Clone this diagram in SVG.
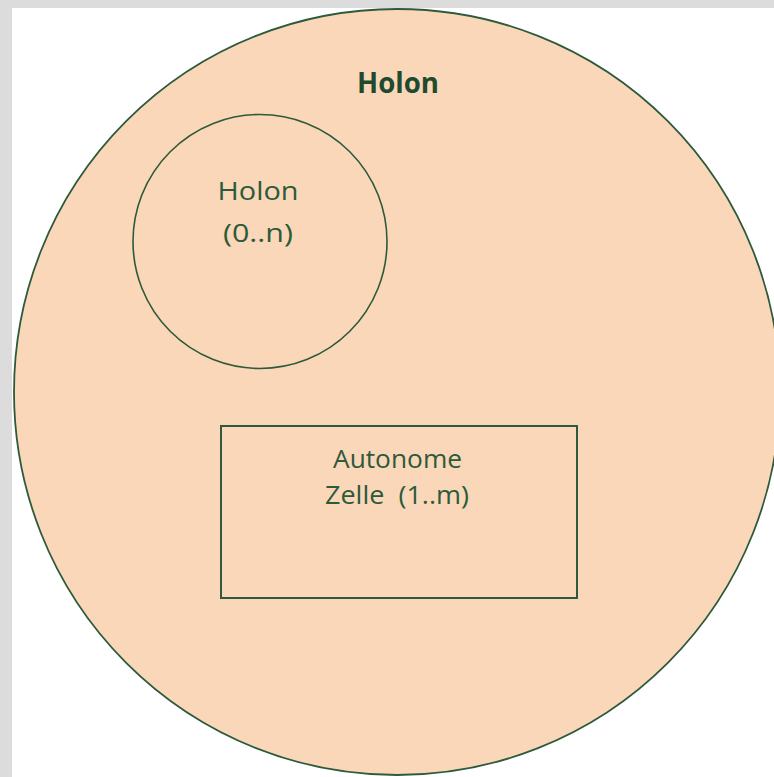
<svg xmlns="http://www.w3.org/2000/svg" width="774" height="777" viewBox="0 0 774 777">
  <style>
    .shape { fill: #fad7b9; stroke: #2d5a3a; }
    .lbl { font-family: "Open Sans", "DejaVu Sans", sans-serif; font-size: 25px; fill: #2d5a3a; text-anchor: middle; }
    .title { font-family: "Open Sans", "DejaVu Sans", sans-serif; font-size: 28px; font-weight: bold; fill: #1f4a2e; text-anchor: middle; }
  </style>
  <rect x="0" y="0" width="774" height="777" fill="#dcdcdc"/>
  <rect x="12" y="8" width="762" height="769" fill="#ffffff"/>
  <g id="holon-outer">
    <circle class="shape" cx="397" cy="392" r="383" stroke-width="1.8"/>
    <text class="title" x="398" y="93" textLength="82" lengthAdjust="spacingAndGlyphs">Holon</text>
  </g>
  <g id="holon-inner">
    <circle class="shape" cx="260" cy="241.5" r="127" stroke-width="1.6"/>
    <text class="lbl" x="258" y="200" textLength="81" lengthAdjust="spacingAndGlyphs">Holon</text>
    <text class="lbl" x="258" y="242" textLength="70" lengthAdjust="spacingAndGlyphs">(0..n)</text>
  </g>
  <g id="zelle">
    <rect class="shape" x="221" y="426" width="356" height="172" stroke-width="2"/>
    <text class="lbl" x="397.5" y="467.5" textLength="129" lengthAdjust="spacingAndGlyphs">Autonome</text>
    <text class="lbl" x="397" y="504" textLength="144" lengthAdjust="spacingAndGlyphs" xml:space="preserve">Zelle  (1..m)</text>
  </g>
  <g id="connectors"></g>
</svg>
